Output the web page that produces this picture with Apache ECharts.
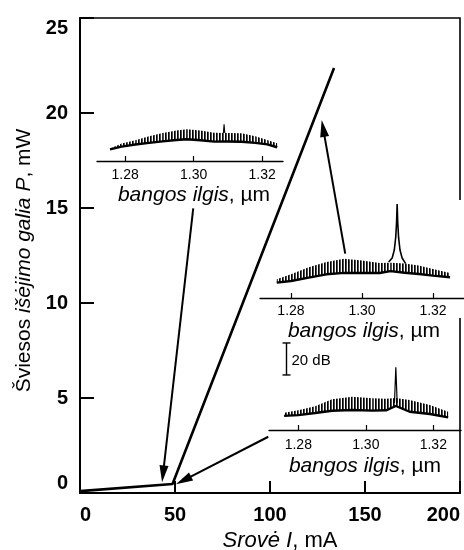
<!DOCTYPE html>
<html>
<head>
<meta charset="utf-8">
<script src="https://cdn.jsdelivr.net/npm/echarts@6/dist/echarts.min.js"></script>
<style>
  html, body { margin: 0; padding: 0; background: #fff; }
  #chart { width: 464px; height: 550px; }
</style>
</head>
<body>
<div id="chart"></div>
<script>
// Light-current characteristic of the laser diode
const currentMA = [0, 48.7, 133.7];
const powerMW = [0.1, 0.47, 22.37];
const currentTicks = [0, 50, 100, 150, 200];
const powerTicks = [0, 5, 10, 15, 20, 25];

// Emission spectra (relative level, dB above the inset baseline)
const waveTicks = [1.28, 1.30, 1.32];

// below threshold
const spec1Wave  = [1.2756, 1.2790, 1.2830, 1.2870, 1.2910, 1.2950, 1.2980, 1.3020, 1.3060, 1.3100, 1.3140, 1.3180, 1.3215, 1.3244];
const spec1Floor = [7.3, 9.0, 10.3, 11.3, 12.3, 13.1, 13.6, 13.0, 12.1, 12.2, 12.0, 11.3, 10.4, 8.6];
const spec1Top   = [7.8, 11.0, 13.0, 15.5, 17.5, 19.0, 19.8, 19.0, 17.7, 17.5, 17.3, 15.5, 13.1, 11.1];
const spec1PeakWave  = [1.3087, 1.3089, 1.3091];
const spec1PeakLevel = [17.5, 23.0, 17.5];

// well above threshold
const spec2Wave  = [1.2760, 1.2800, 1.2850, 1.2900, 1.2950, 1.3000, 1.3050, 1.3080, 1.3120, 1.3160, 1.3200, 1.3248];
const spec2Floor = [9.6, 10.6, 12.7, 14.8, 15.7, 15.6, 15.6, 16.8, 15.8, 15.0, 14.0, 13.0];
const spec2Top   = [11.7, 14.8, 19.2, 22.5, 24.6, 23.4, 21.9, 22.0, 21.6, 20.3, 18.2, 15.6];
const spec2PeakWave  = [1.3075, 1.3085, 1.3091, 1.3095, 1.30975, 1.3099, 1.31005, 1.3103, 1.3107, 1.3113, 1.3123];
const spec2PeakLevel = [22.5, 25.0, 30.0, 38.0, 48.0, 58.75, 48.0, 38.0, 30.0, 25.0, 21.5];

// at threshold
const spec3Wave  = [1.2758, 1.2800, 1.2850, 1.2900, 1.2960, 1.3020, 1.3060, 1.3089, 1.3130, 1.3190, 1.3244];
const spec3Floor = [8.8, 9.3, 10.6, 12.0, 12.5, 12.1, 12.3, 15.0, 11.4, 10.0, 7.9];
const spec3Top   = [10.8, 12.3, 14.8, 19.2, 20.8, 19.8, 19.5, 20.0, 18.7, 15.6, 11.4];
const spec3PeakWave  = [1.3085, 1.3089, 1.3093];
const spec3PeakLevel = [17.0, 39.2, 17.0];

// vertical scale bar (dB)
const scaleBarWave = 1.2764;
const scaleBarFrom = 34.4;
const scaleBarTo = 54.4;

// arrows linking each spectrum to its operating point [mA, mW]
const arrowFrom = [[59.6, 14.98], [139.6, 12.6], [99.1, 2.96]];
const arrowTo   = [[43.2, 0.56], [127.2, 19.63], [50.5, 0.46]];

const FONT = '"Liberation Sans", Arial, Helvetica, sans-serif';
const pairs = (a, b) => a.map((v, i) => [v, b[i]]);

// dense comb texture for the longitudinal-mode bands
const comb = document.createElement('canvas');
comb.width = 3; comb.height = 2;
{
  const c = comb.getContext('2d');
  c.fillStyle = '#000'; c.fillRect(0, 0, 1, 2);
  c.fillStyle = 'rgba(0,0,0,0.7)'; c.fillRect(1, 0, 1, 2);
}

const chart = echarts.init(document.getElementById('chart'), null, { renderer: 'canvas' });

function insetXAxis(idx, min, max, nameGap, labelMargin, namePad) {
  return {
    gridIndex: idx, type: 'value', min: min, max: max, splitNumber: 3, z: 3,
    axisLine: { lineStyle: { color: '#000', width: 1.4 } },
    axisTick: { inside: true, length: 5, customValues: waveTicks, lineStyle: { color: '#000', width: 1.2 } },
    axisLabel: { customValues: waveTicks, fontSize: 14, fontFamily: FONT, color: '#000', margin: labelMargin,
                 formatter: v => v.toFixed(2) },
    splitLine: { show: false },
    name: '{i|bangos ilgis}{n|, µm}', nameLocation: 'middle', nameGap: nameGap,
    nameTextStyle: { padding: namePad,
      rich: { i: { fontSize: 21, fontStyle: 'italic', fontFamily: FONT, color: '#000' },
              n: { fontSize: 21, fontFamily: FONT, color: '#000' } } }
  };
}
function insetYAxis(idx, min, max) {
  return { gridIndex: idx, type: 'value', min: min, max: max, show: false };
}
// one spectrum: comb-filled band between floor and mode peaks, floor line, lasing line
function spectrumSeries(idx, wave, floor, top, peakWave, peakLevel, peakWidth) {
  const segs = wave.slice(0, -1).map((w, i) => [w, floor[i], top[i], wave[i + 1], floor[i + 1], top[i + 1]]);
  return [
    { type: 'custom', xAxisIndex: idx, yAxisIndex: idx, z: 4, clip: false, data: segs,
      encode: { x: [0, 3], y: [1, 2, 4, 5] },
      renderItem: (params, api) => {
        const a0 = api.coord([api.value(0), api.value(1)]);
        const a1 = api.coord([api.value(0), api.value(2)]);
        const b1 = api.coord([api.value(3), api.value(5)]);
        const b0 = api.coord([api.value(3), api.value(4)]);
        return { type: 'polygon', shape: { points: [a0, a1, b1, b0] },
                 style: { fill: { image: comb, repeat: 'repeat' } } };
      } },
    { type: 'line', xAxisIndex: idx, yAxisIndex: idx, data: pairs(wave, floor),
      symbol: 'none', z: 5, lineStyle: { color: '#000', width: 2.4 } },
    { type: 'line', xAxisIndex: idx, yAxisIndex: idx, data: pairs(peakWave, peakLevel),
      symbol: 'none', z: 5, lineStyle: { color: '#000', width: peakWidth } }
  ];
}

const option = {
  animation: false,
  backgroundColor: '#fff',
  grid: [
    { left: 80, top: 18, width: 380, height: 475, show: true, borderColor: '#000', borderWidth: 1.6,
      backgroundColor: 'transparent', z: 0, outerBoundsMode: 'none' },
    { left: 97, top: 113, width: 186, height: 48, z: 1, outerBoundsMode: 'none' },
    { left: 260, top: 202, width: 204, height: 96, z: 1, outerBoundsMode: 'none' },
    { left: 269, top: 334, width: 192, height: 96, z: 1, outerBoundsMode: 'none' },
    // white panel behind the upper-right spectrum
    { left: 330, top: 200, width: 134, height: 118, show: true, backgroundColor: '#fff', borderWidth: 0,
      z: 1, outerBoundsMode: 'none' }
  ],
  xAxis: [
    {
      gridIndex: 0, type: 'value', min: currentTicks[0], max: currentTicks[currentTicks.length - 1],
      interval: currentTicks[1] - currentTicks[0], z: 2,
      axisLine: { lineStyle: { color: '#000', width: 2 } },
      axisTick: { inside: true, length: 12, lineStyle: { color: '#000', width: 2 } },
      axisLabel: { fontSize: 20, fontWeight: 'bold', fontFamily: FONT, color: '#000', margin: 12,
                   alignMinLabel: 'left', alignMaxLabel: 'right' },
      splitLine: { show: false },
      name: '{i|Srovė I}{n|, mA}', nameLocation: 'middle', nameGap: 33,
      nameTextStyle: { padding: [0, 0, 0, 20],
        rich: { i: { fontSize: 22, fontStyle: 'italic', fontFamily: FONT, color: '#000' },
                n: { fontSize: 22, fontFamily: FONT, color: '#000' } } }
    },
    insetXAxis(1, 1.2718, 1.3261, 24, 7, [0, 0, 0, 8]),
    insetXAxis(2, 1.27127, 1.32873, 23, 6, [0, 0, 0, 4]),
    insetXAxis(3, 1.27132, 1.32821, 26, 8, [0, 0, 0, 0]),
    { gridIndex: 4, type: 'value', show: false }
  ],
  yAxis: [
    {
      gridIndex: 0, type: 'value', min: powerTicks[0], max: powerTicks[powerTicks.length - 1],
      interval: powerTicks[1] - powerTicks[0], z: 2,
      axisLine: { lineStyle: { color: '#000', width: 2 } },
      axisTick: { inside: true, length: 14, lineStyle: { color: '#000', width: 2 } },
      axisLabel: { fontSize: 20, fontWeight: 'bold', fontFamily: FONT, color: '#000', margin: 12,
                   verticalAlignMinLabel: 'bottom', verticalAlignMaxLabel: 'top' },
      splitLine: { show: false },
      name: '{n|Šviesos }{i|išėjimo galia P}{n|, mW}', nameLocation: 'middle', nameGap: 44,
      nameTextStyle: { padding: [0, 10, 0, 0],
        rich: { i: { fontSize: 21, fontStyle: 'italic', fontFamily: FONT, color: '#000' },
                n: { fontSize: 21, fontFamily: FONT, color: '#000' } } }
    },
    insetYAxis(1, 0, 30),
    insetYAxis(2, 0, 60),
    insetYAxis(3, 0, 60),
    { gridIndex: 4, type: 'value', show: false }
  ],
  series: [
    { type: 'line', xAxisIndex: 0, yAxisIndex: 0, data: pairs(currentMA, powerMW), symbol: 'none', z: 3,
      lineStyle: { color: '#000', width: 2.6 } },
    ...spectrumSeries(1, spec1Wave, spec1Floor, spec1Top, spec1PeakWave, spec1PeakLevel, 1.1),
    ...spectrumSeries(2, spec2Wave, spec2Floor, spec2Top, spec2PeakWave, spec2PeakLevel, 1.6),
    ...spectrumSeries(3, spec3Wave, spec3Floor, spec3Top, spec3PeakWave, spec3PeakLevel, 1.2),
    {
      // 20 dB scale bar
      type: 'custom', xAxisIndex: 3, yAxisIndex: 3, z: 6, clip: false,
      data: [[scaleBarWave, scaleBarFrom, scaleBarTo]],
      encode: { x: 0, y: [1, 2] },
      renderItem: (params, api) => {
        const lo = api.coord([api.value(0), api.value(1)]);
        const hi = api.coord([api.value(0), api.value(2)]);
        const x = Math.round(lo[0]) + 0.5;
        const w = 4;
        const label = Math.round(api.value(2) - api.value(1)) + ' dB';
        return { type: 'group', children: [
          { type: 'line', shape: { x1: x, y1: hi[1], x2: x, y2: lo[1] }, style: { stroke: '#000', lineWidth: 1.4 } },
          { type: 'line', shape: { x1: x - w, y1: hi[1], x2: x + w, y2: hi[1] }, style: { stroke: '#000', lineWidth: 1.4 } },
          { type: 'line', shape: { x1: x - w, y1: lo[1], x2: x + w, y2: lo[1] }, style: { stroke: '#000', lineWidth: 1.4 } },
          { type: 'text', style: { text: label, x: x + 5, y: (hi[1] + lo[1]) / 2 + 2, fontSize: 15, fontFamily: FONT,
                                   fill: '#000', verticalAlign: 'middle', align: 'left' } }
        ] };
      }
    },
    {
      // arrows
      type: 'custom', xAxisIndex: 0, yAxisIndex: 0, z: 7, clip: false,
      data: arrowFrom.map((p, i) => [p[0], p[1], arrowTo[i][0], arrowTo[i][1]]),
      encode: { x: [0, 2], y: [1, 3] },
      renderItem: (params, api) => {
        const p1 = api.coord([api.value(0), api.value(1)]);
        const p2 = api.coord([api.value(2), api.value(3)]);
        const dx = p2[0] - p1[0], dy = p2[1] - p1[1];
        const len = Math.hypot(dx, dy);
        const ux = dx / len, uy = dy / len;
        const headL = 17, headW = 4.5;
        const bx = p2[0] - ux * headL, by = p2[1] - uy * headL;
        return { type: 'group', children: [
          { type: 'line', shape: { x1: p1[0], y1: p1[1], x2: bx + ux * 2, y2: by + uy * 2 },
            style: { stroke: '#000', lineWidth: 2 } },
          { type: 'polygon', shape: { points: [[p2[0], p2[1]], [bx - uy * headW, by + ux * headW], [bx + uy * headW, by - ux * headW]] },
            style: { fill: '#000' } }
        ] };
      }
    }
  ]
};
chart.setOption(option);
</script>
</body>
</html>
